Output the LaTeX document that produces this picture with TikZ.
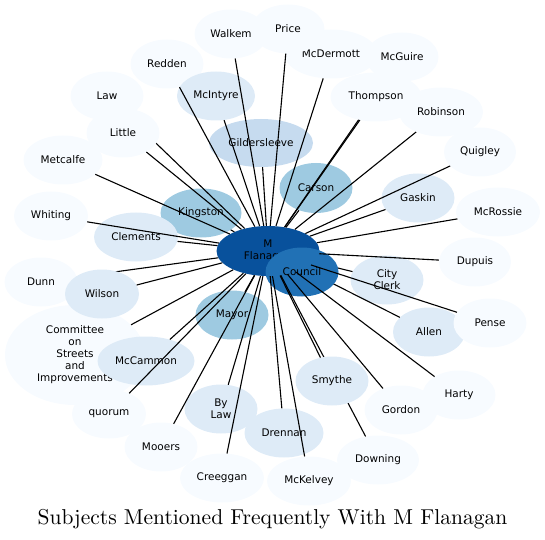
\documentclass[tikz,border=0pt]{standalone}
\usepackage{fontspec}
\usetikzlibrary{shapes.geometric}
\newfontfamily\labelfont{DejaVu Sans}
\newfontfamily\titlefont{lmroman10-regular}[Extension=.otf]
\definecolor{blueA}{HTML}{F7FBFF}
\definecolor{blueB}{HTML}{DEEBF7}
\definecolor{blueC}{HTML}{C6DBEF}
\definecolor{blueD}{HTML}{9ECAE1}
\definecolor{blueE}{HTML}{2171B5}
\definecolor{blueF}{HTML}{08519C}

\begin{document}
\begin{tikzpicture}[
  x=1bp, y=-1bp,
  font=\labelfont\fontsize{10.5}{12}\selectfont,
  namebox/.style={ellipse, minimum width=73bp, minimum height=49bp, inner sep=0pt, align=center},
  rarebox/.style={namebox, fill=blueA},
  somebox/.style={namebox, fill=blueB},
  oftenbox/.style={namebox, fill=blueC},
  freqbox/.style={namebox, fill=blueD},
  councilbox/.style={namebox, fill=blueE},
  hubbox/.style={namebox, fill=blueF, minimum width=103bp, minimum height=50bp},
  link/.style={line width=1.1bp, black}
]
\useasboundingbox (0,0) rectangle (545,540);

% subjects lying under the links
\node (walkem) [rarebox] at (231, 34) {Walkem};
\node (mcdermott) [rarebox, minimum width=93bp] at (331, 54) {McDermott};
\node (price) [rarebox] at (288, 29) {Price};
\node (mcguire) [rarebox] at (402, 57) {McGuire};
\node (redden) [rarebox] at (167, 64) {Redden};
\node (law) [rarebox] at (107, 96) {Law};
\node (mcintyre) [somebox, minimum width=78bp] at (216, 96) {McIntyre};
\node (robinson) [rarebox, minimum width=84bp] at (441, 112) {Robinson};
\node (gildersleeve) [oftenbox, minimum width=104bp, minimum height=48bp] at (261, 143) {Gildersleeve};
\node (quigley) [rarebox, minimum width=72bp] at (480, 152) {Quigley};
\node (metcalfe) [rarebox, minimum width=79bp] at (63, 160) {Metcalfe};
\node (carson) [freqbox, minimum height=50bp] at (316, 188) {Carson};
\node (gaskin) [somebox] at (418, 198) {Gaskin};
\node (kingston) [freqbox, minimum width=81bp] at (201, 213) {Kingston};
\node (mcrossie) [rarebox, minimum width=84bp] at (498, 212) {McRossie};
\node (whiting) [rarebox, minimum width=74bp] at (51, 216) {Whiting};
\node (clements) [somebox, minimum width=84bp] at (136, 237) {Clements};
\node (dupuis) [rarebox, minimum width=72bp] at (475, 262) {Dupuis};
\node (cityclerk) [somebox] at (387, 280) {City\\Clerk};
\node (dunn) [rarebox] at (41, 282) {Dunn};
\node (mayor) [freqbox] at (232, 315) {Mayor};
\node (allen) [somebox, minimum width=72bp] at (429, 332) {Allen};
\node (pense) [rarebox] at (490, 323) {Pense};
\node (committee) [rarebox, minimum width=140bp, minimum height=100bp] at (75, 355) {Committee\\on\\Streets\\and\\Improvements};
\node (mccammon) [somebox, minimum width=97bp] at (146, 361) {McCammon};
\node (harty) [rarebox] at (459, 395) {Harty};
\node (gordon) [rarebox] at (401, 410) {Gordon};
\node (bylaw) [somebox] at (221, 409) {By\\Law};
\node (quorum) [rarebox, minimum width=74bp] at (109, 414) {quorum};
\node (drennan) [somebox, minimum width=79bp] at (284, 433) {Drennan};
\node (mooers) [rarebox] at (161, 447) {Mooers};
\node (downing) [rarebox, minimum width=82bp] at (378, 460) {Downing};
\node (creeggan) [rarebox, minimum width=84bp] at (222, 478) {Creeggan};
\node (mckelvey) [rarebox, minimum width=84bp] at (309, 481) {McKelvey};
\node (mf) [hubbox] at (268, 251) {M\\Flanagan};

% links hidden further out
\draw [link] (mf) -- (law);
\draw [link] (mf) -- (mcguire);
\draw [link] (mf) -- (dunn);
\draw [link] (mf) -- (cityclerk);
\draw [link] (mf) -- (allen);

\node (little) [rarebox] at (123, 133) {Little};
\node (thompson) [rarebox, minimum width=91bp] at (376, 97) {Thompson};
\node (wilson) [somebox, minimum width=74bp] at (102, 294) {Wilson};
\node (council) [councilbox] at (302, 272) {Council};

\draw [link] (mf) -- (downing);
\node (smythe) [somebox] at (332, 381) {Smythe};

% links on top
\foreach \s in {walkem, price, mcdermott, redden, mcintyre, little, gildersleeve,
  carson, thompson, robinson, quigley, gaskin, mcrossie, dupuis, pense, metcalfe,
  kingston, whiting, clements, wilson, committee, mccammon, quorum, mooers,
  mayor, bylaw, creeggan, drennan, mckelvey, smythe, gordon, harty}
  \draw [link] (mf) -- (\s);

\node (title) [anchor=base, font=\titlefont\fontsize{21.6}{26}\selectfont] at (272.5, 524) {Subjects Mentioned Frequently With M Flanagan};
\end{tikzpicture}
\end{document}
